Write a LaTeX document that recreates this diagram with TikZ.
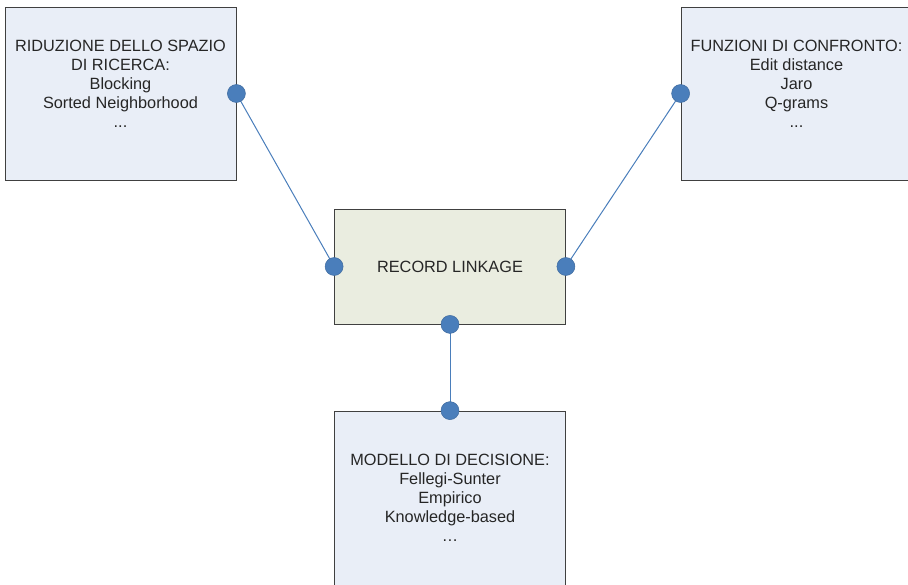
\documentclass[tikz,border=0pt]{standalone}
\usepackage{fontspec}
\setmainfont{Liberation Sans}
\definecolor{boxblue}{HTML}{E9EEF7}
\definecolor{boxgreen}{HTML}{EAEDE0}
\definecolor{jointblue}{HTML}{4A7EBB}
\definecolor{edgegray}{HTML}{404040}
\definecolor{textgray}{HTML}{262626}
\begin{document}
\begin{tikzpicture}[x=1pt, y=-1pt,
    box/.style={draw=edgegray, line width=.8pt, minimum width=231pt, inner sep=0pt},
    boxtext/.style={align=center, inner sep=0pt, text=textgray,
        font=\fontsize{16.3}{19}\selectfont},
    link/.style={draw=jointblue, line width=1pt},
    joint/.style={circle, fill=jointblue, draw=jointblue!85!black, line width=.5pt,
        inner sep=0pt, minimum size=18pt}]
\useasboundingbox (0,0) rectangle (908,584);
\clip (0,0) rectangle (908,584);
% boxes
\node[box, fill=boxblue, minimum height=173pt] (spazio) at (120.5,93.5) {};
\node[box, fill=boxblue, minimum height=173pt, minimum width=260pt] (confronto) at (811,93.5) {};
\node[box, boxtext, fill=boxgreen, minimum height=115pt] (linkage) at (450,266.5) {RECORD LINKAGE};
\node[box, fill=boxblue, minimum height=200pt] (decisione) at (450,511) {};
% box texts
\node[boxtext] (spaziotext) at (120.5,84)
    {RIDUZIONE DELLO SPAZIO\\DI RICERCA:\\Blocking\\Sorted Neighborhood\\...};
\node[boxtext] (confrontotext) at (796.5,84)
    {FUNZIONI DI CONFRONTO:\\Edit distance\\Jaro\\Q-grams\\...};
\node[boxtext] (decisionetext) at (450,497.5)
    {MODELLO DI DECISIONE:\\Fellegi-Sunter\\Empirico\\Knowledge-based\\…};
% connectors
\draw[link] (spazio.east) -- (linkage.west);
\draw[link] (confronto.west) -- (linkage.east);
\draw[link] (linkage.south) -- (decisione.north);
\node[joint] (j1) at (spazio.east) {};
\node[joint] (j2) at (linkage.west) {};
\node[joint] (j3) at (confronto.west) {};
\node[joint] (j4) at (linkage.east) {};
\node[joint] (j5) at (linkage.south) {};
\node[joint] (j6) at (decisione.north) {};
\end{tikzpicture}
\end{document}
